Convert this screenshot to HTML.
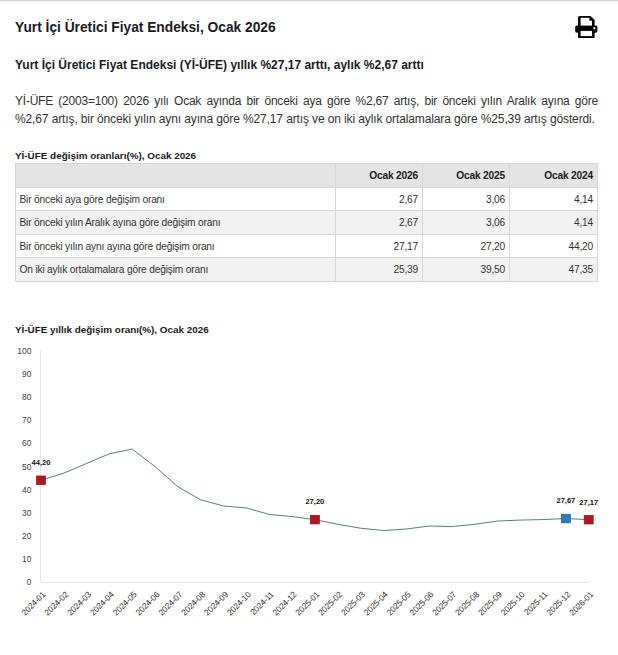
<!DOCTYPE html>
<html lang="tr">
<head>
<meta charset="utf-8">
<title>Yurt İçi Üretici Fiyat Endeksi, Ocak 2026</title>
<style>
html,body{margin:0;padding:0;background:#fff;}
body{width:618px;height:655px;overflow:hidden;position:relative;font-family:"Liberation Sans",Arial,sans-serif;color:#333;}
.topline{position:absolute;left:0;top:0;width:618px;height:5px;background:linear-gradient(#d6d6d6 0px,#d6d6d6 1px,#efefef 1.5px,#fafafa 2.5px,#fcfcfc 4px,#fff 5px);}
.abs{position:absolute;white-space:nowrap;}
h1{position:absolute;left:15px;top:18.6px;margin:0;font-size:13.75px;font-weight:bold;color:#1a1a1f;line-height:18px;white-space:nowrap;}
h2{position:absolute;left:15px;top:57px;margin:0;font-size:12px;font-weight:bold;color:#1a1a1f;line-height:16px;white-space:nowrap;}
.para{position:absolute;left:15px;top:93px;width:583px;font-size:12px;line-height:17.8px;color:#333;letter-spacing:-0.12px;}
.para .l1{text-align:justify;text-align-last:justify;letter-spacing:-0.22px;}
.ttl{position:absolute;left:15px;margin:0;font-size:9.9px;font-weight:bold;color:#1a1a1f;white-space:nowrap;line-height:12px;}
table{position:absolute;left:15px;top:163px;border-collapse:collapse;font-size:10.2px;letter-spacing:-0.18px;color:#333;table-layout:fixed;width:583px;}
td,th{border:1px solid #d8d8d8;padding:2.25px 4px 0 3.5px;height:20.25px;line-height:12px;white-space:nowrap;overflow:hidden;}
th{padding-top:1px;height:21.5px;background:#e4e4e4;font-weight:bold;text-align:right;color:#1a1a1f;}
td{text-align:right;}
td.l{text-align:left;}
tr.g td{background:#f2f2f2;}
svg text{font-family:"Liberation Sans",Arial,sans-serif;}
</style>
</head>
<body>
<div class="topline"></div>
<h1>Yurt İçi Üretici Fiyat Endeksi, Ocak 2026</h1>
<svg class="abs" style="left:0;top:0" width="618" height="50" viewBox="0 0 618 50">
  <path d="M579.5,16 L590.5,16 L594.6,20.1 L594.6,26 L578,26 L578,17.5 Q578,16 579.5,16 Z" fill="#000"/>
  <rect x="575.2" y="25.4" width="22.2" height="7.3" rx="1.6" fill="#000"/>
  <rect x="578" y="29" width="16.6" height="9.1" rx="1.2" fill="#000"/>
  <rect x="580.6" y="17.8" width="11.4" height="7.8" fill="#fff"/>
  <rect x="589.4" y="17.6" width="2.8" height="3.1" fill="#000"/>
  <rect x="593.4" y="27.2" width="1.8" height="2" fill="#fff"/>
  <rect x="580.6" y="30.9" width="11.4" height="5.2" fill="#fff"/>
</svg>
<h2>Yurt İçi Üretici Fiyat Endeksi (Yİ-ÜFE) yıllık %27,17 arttı, aylık %2,67 arttı</h2>
<div class="para">
<div class="l1">Yİ-ÜFE (2003=100) 2026 yılı Ocak ayında bir önceki aya göre %2,67 artış, bir önceki yılın Aralık ayına göre</div>
<div class="l2">%2,67 artış, bir önceki yılın aynı ayına göre %27,17 artış ve on iki aylık ortalamalara göre %25,39 artış gösterdi.</div>
</div>
<div class="ttl" style="top:150px">Yİ-ÜFE değişim oranları(%), Ocak 2026</div>
<table>
<colgroup><col style="width:320px"><col style="width:87px"><col style="width:87px"><col style="width:88px"></colgroup>
<tr><th></th><th>Ocak 2026</th><th>Ocak 2025</th><th>Ocak 2024</th></tr>
<tr><td class="l">Bir önceki aya göre değişim oranı</td><td>2,67</td><td>3,06</td><td>4,14</td></tr>
<tr class="g"><td class="l">Bir önceki yılın Aralık ayına göre değişim oranı</td><td>2,67</td><td>3,06</td><td>4,14</td></tr>
<tr><td class="l">Bir önceki yılın aynı ayına göre değişim oranı</td><td>27,17</td><td>27,20</td><td>44,20</td></tr>
<tr class="g"><td class="l">On iki aylık ortalamalara göre değişim oranı</td><td>25,39</td><td>39,50</td><td>47,35</td></tr>
</table>
<div class="ttl" style="top:324px">Yİ-ÜFE yıllık değişim oranı(%), Ocak 2026</div>
<svg id="chart" class="abs" style="left:0;top:340px" width="618" height="315" viewBox="0 340 618 315">
<line x1="40.5" y1="350.5" x2="40.5" y2="583" stroke="#e6e6e6" stroke-width="1"/>
<line x1="40.5" y1="582.5" x2="589" y2="582.5" stroke="#e6e6e6" stroke-width="1"/>
<text x="31.3" y="585.00" font-size="8.4" fill="#404040" text-anchor="end">0</text>
<text x="31.3" y="561.90" font-size="8.4" fill="#404040" text-anchor="end">10</text>
<text x="31.3" y="538.80" font-size="8.4" fill="#404040" text-anchor="end">20</text>
<text x="31.3" y="515.70" font-size="8.4" fill="#404040" text-anchor="end">30</text>
<text x="31.3" y="492.60" font-size="8.4" fill="#404040" text-anchor="end">40</text>
<text x="31.3" y="469.50" font-size="8.4" fill="#404040" text-anchor="end">50</text>
<text x="31.3" y="446.40" font-size="8.4" fill="#404040" text-anchor="end">60</text>
<text x="31.3" y="423.30" font-size="8.4" fill="#404040" text-anchor="end">70</text>
<text x="31.3" y="400.20" font-size="8.4" fill="#404040" text-anchor="end">80</text>
<text x="31.3" y="377.10" font-size="8.4" fill="#404040" text-anchor="end">90</text>
<text x="31.3" y="354.00" font-size="8.4" fill="#404040" text-anchor="end">100</text>
<polyline points="41.00,480.28 63.82,473.12 86.64,463.45 109.46,453.75 132.28,449.07 155.10,466.64 177.93,486.83 200.75,499.84 223.57,506.00 246.39,507.96 269.21,514.38 292.03,516.58 314.85,519.63 337.67,524.24 360.49,528.20 383.31,530.51 406.13,529.05 428.95,526.00 451.78,526.60 474.60,524.35 497.42,521.04 520.24,520.10 543.06,519.56 565.88,518.54 588.70,519.70" fill="none" stroke="#3b6578" stroke-width="0.85"/>
<rect x="36.50" y="475.98" width="9" height="8.6" fill="#b3161f" stroke="#8e1219" stroke-width="0.7"/>
<rect x="310.35" y="515.33" width="9" height="8.6" fill="#b3161f" stroke="#8e1219" stroke-width="0.7"/>
<rect x="584.20" y="515.40" width="9" height="8.6" fill="#b3161f" stroke="#8e1219" stroke-width="0.7"/>
<rect x="561.38" y="514.24" width="9" height="8.6" fill="#2f7dc0" stroke="#23689f" stroke-width="0.7"/>
<text x="41.00" y="465.1" font-size="7.5" font-weight="bold" fill="#111" text-anchor="middle">44,20</text>
<text x="314.85" y="504.4" font-size="7.5" font-weight="bold" fill="#111" text-anchor="middle">27,20</text>
<text x="565.88" y="503.3" font-size="7.5" font-weight="bold" fill="#111" text-anchor="middle">27,67</text>
<text x="588.70" y="504.5" font-size="7.5" font-weight="bold" fill="#111" text-anchor="middle">27,17</text>
<text x="46.00" y="595.0" font-size="8.4" letter-spacing="-0.15" fill="#333" text-anchor="end" transform="rotate(-45 46.00 595.0)">2024-01</text>
<text x="68.82" y="595.0" font-size="8.4" letter-spacing="-0.15" fill="#333" text-anchor="end" transform="rotate(-45 68.82 595.0)">2024-02</text>
<text x="91.64" y="595.0" font-size="8.4" letter-spacing="-0.15" fill="#333" text-anchor="end" transform="rotate(-45 91.64 595.0)">2024-03</text>
<text x="114.46" y="595.0" font-size="8.4" letter-spacing="-0.15" fill="#333" text-anchor="end" transform="rotate(-45 114.46 595.0)">2024-04</text>
<text x="137.28" y="595.0" font-size="8.4" letter-spacing="-0.15" fill="#333" text-anchor="end" transform="rotate(-45 137.28 595.0)">2024-05</text>
<text x="160.10" y="595.0" font-size="8.4" letter-spacing="-0.15" fill="#333" text-anchor="end" transform="rotate(-45 160.10 595.0)">2024-06</text>
<text x="182.93" y="595.0" font-size="8.4" letter-spacing="-0.15" fill="#333" text-anchor="end" transform="rotate(-45 182.93 595.0)">2024-07</text>
<text x="205.75" y="595.0" font-size="8.4" letter-spacing="-0.15" fill="#333" text-anchor="end" transform="rotate(-45 205.75 595.0)">2024-08</text>
<text x="228.57" y="595.0" font-size="8.4" letter-spacing="-0.15" fill="#333" text-anchor="end" transform="rotate(-45 228.57 595.0)">2024-09</text>
<text x="251.39" y="595.0" font-size="8.4" letter-spacing="-0.15" fill="#333" text-anchor="end" transform="rotate(-45 251.39 595.0)">2024-10</text>
<text x="274.21" y="595.0" font-size="8.4" letter-spacing="-0.15" fill="#333" text-anchor="end" transform="rotate(-45 274.21 595.0)">2024-11</text>
<text x="297.03" y="595.0" font-size="8.4" letter-spacing="-0.15" fill="#333" text-anchor="end" transform="rotate(-45 297.03 595.0)">2024-12</text>
<text x="319.85" y="595.0" font-size="8.4" letter-spacing="-0.15" fill="#333" text-anchor="end" transform="rotate(-45 319.85 595.0)">2025-01</text>
<text x="342.67" y="595.0" font-size="8.4" letter-spacing="-0.15" fill="#333" text-anchor="end" transform="rotate(-45 342.67 595.0)">2025-02</text>
<text x="365.49" y="595.0" font-size="8.4" letter-spacing="-0.15" fill="#333" text-anchor="end" transform="rotate(-45 365.49 595.0)">2025-03</text>
<text x="388.31" y="595.0" font-size="8.4" letter-spacing="-0.15" fill="#333" text-anchor="end" transform="rotate(-45 388.31 595.0)">2025-04</text>
<text x="411.13" y="595.0" font-size="8.4" letter-spacing="-0.15" fill="#333" text-anchor="end" transform="rotate(-45 411.13 595.0)">2025-05</text>
<text x="433.95" y="595.0" font-size="8.4" letter-spacing="-0.15" fill="#333" text-anchor="end" transform="rotate(-45 433.95 595.0)">2025-06</text>
<text x="456.78" y="595.0" font-size="8.4" letter-spacing="-0.15" fill="#333" text-anchor="end" transform="rotate(-45 456.78 595.0)">2025-07</text>
<text x="479.60" y="595.0" font-size="8.4" letter-spacing="-0.15" fill="#333" text-anchor="end" transform="rotate(-45 479.60 595.0)">2025-08</text>
<text x="502.42" y="595.0" font-size="8.4" letter-spacing="-0.15" fill="#333" text-anchor="end" transform="rotate(-45 502.42 595.0)">2025-09</text>
<text x="525.24" y="595.0" font-size="8.4" letter-spacing="-0.15" fill="#333" text-anchor="end" transform="rotate(-45 525.24 595.0)">2025-10</text>
<text x="548.06" y="595.0" font-size="8.4" letter-spacing="-0.15" fill="#333" text-anchor="end" transform="rotate(-45 548.06 595.0)">2025-11</text>
<text x="570.88" y="595.0" font-size="8.4" letter-spacing="-0.15" fill="#333" text-anchor="end" transform="rotate(-45 570.88 595.0)">2025-12</text>
<text x="593.70" y="595.0" font-size="8.4" letter-spacing="-0.15" fill="#333" text-anchor="end" transform="rotate(-45 593.70 595.0)">2026-01</text>
</svg>
</body>
</html>
